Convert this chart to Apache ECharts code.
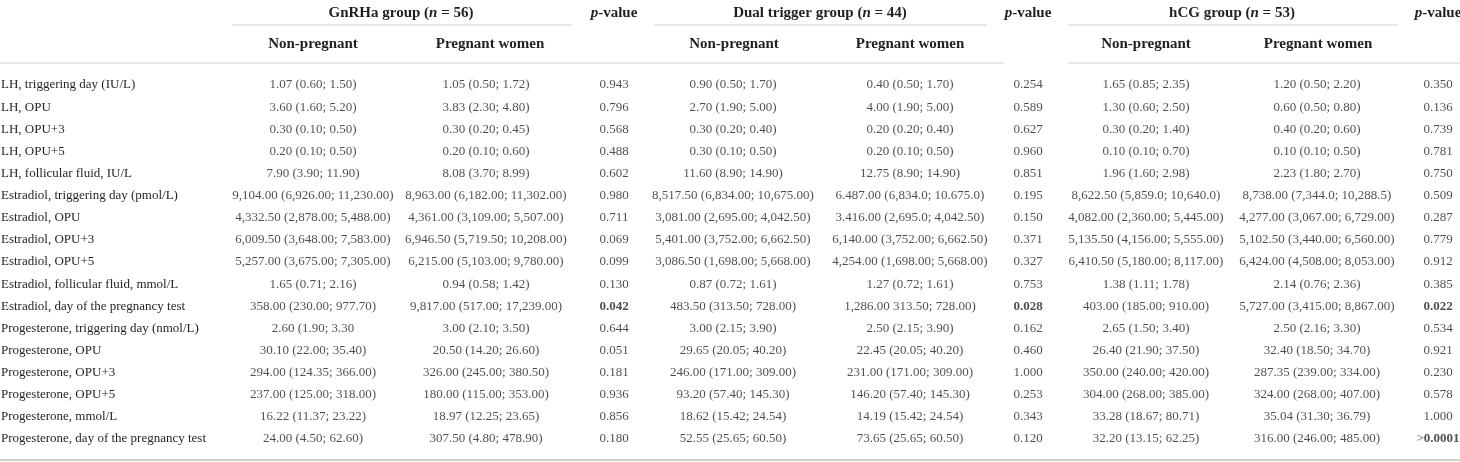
<!DOCTYPE html>
<html lang="en">
  <head>
    <meta charset="UTF-8" />
    <title>Hormone levels by trigger group</title>
    <script src="https://cdn.jsdelivr.net/npm/echarts@6.0.0/dist/echarts.min.js"></script>
    <style>
      html, body { margin: 0; padding: 0; background: #fff; }
      #app { width: 1460px; height: 462px; }
    </style>
  </head>
  <body>
    <div id="app"></div>
    <script>
      const rowLabels = [
        "LH, triggering day (IU/L)",
        "LH, OPU",
        "LH, OPU+3",
        "LH, OPU+5",
        "LH, follicular fluid, IU/L",
        "Estradiol, triggering day (pmol/L)",
        "Estradiol, OPU",
        "Estradiol, OPU+3",
        "Estradiol, OPU+5",
        "Estradiol, follicular fluid, mmol/L",
        "Estradiol, day of the pregnancy test",
        "Progesterone, triggering day (nmol/L)",
        "Progesterone, OPU",
        "Progesterone, OPU+3",
        "Progesterone, OPU+5",
        "Progesterone, mmol/L",
        "Progesterone, day of the pregnancy test",
      ];

      const gnrhaNonPregnant = [
        "1.07 (0.60; 1.50)", "3.60 (1.60; 5.20)", "0.30 (0.10; 0.50)", "0.20 (0.10; 0.50)",
        "7.90 (3.90; 11.90)", "9,104.00 (6,926.00; 11,230.00)", "4,332.50 (2,878.00; 5,488.00)",
        "6,009.50 (3,648.00; 7,583.00)", "5,257.00 (3,675.00; 7,305.00)", "1.65 (0.71; 2.16)",
        "358.00 (230.00; 977.70)", "2.60 (1.90; 3.30", "30.10 (22.00; 35.40)",
        "294.00 (124.35; 366.00)", "237.00 (125.00; 318.00)", "16.22 (11.37; 23.22)",
        "24.00 (4.50; 62.60)",
      ];
      const gnrhaPregnant = [
        "1.05 (0.50; 1.72)", "3.83 (2.30; 4.80)", "0.30 (0.20; 0.45)", "0.20 (0.10; 0.60)",
        "8.08 (3.70; 8.99)", "8,963.00 (6,182.00; 11,302.00)", "4,361.00 (3,109.00; 5,507.00)",
        "6,946.50 (5,719.50; 10,208.00)", "6,215.00 (5,103.00; 9,780.00)", "0.94 (0.58; 1.42)",
        "9,817.00 (517.00; 17,239.00)", "3.00 (2.10; 3.50)", "20.50 (14.20; 26.60)",
        "326.00 (245.00; 380.50)", "180.00 (115.00; 353.00)", "18.97 (12.25; 23.65)",
        "307.50 (4.80; 478.90)",
      ];
      const gnrhaP = [
        "0.943", "0.796", "0.568", "0.488", "0.602", "0.980", "0.711", "0.069", "0.099",
        "0.130", "0.042", "0.644", "0.051", "0.181", "0.936", "0.856", "0.180",
      ];

      const dualNonPregnant = [
        "0.90 (0.50; 1.70)", "2.70 (1.90; 5.00)", "0.30 (0.20; 0.40)", "0.30 (0.10; 0.50)",
        "11.60 (8.90; 14.90)", "8,517.50 (6,834.00; 10,675.00)", "3,081.00 (2,695.00; 4,042.50)",
        "5,401.00 (3,752.00; 6,662.50)", "3,086.50 (1,698.00; 5,668.00)", "0.87 (0.72; 1.61)",
        "483.50 (313.50; 728.00)", "3.00 (2.15; 3.90)", "29.65 (20.05; 40.20)",
        "246.00 (171.00; 309.00)", "93.20 (57.40; 145.30)", "18.62 (15.42; 24.54)",
        "52.55 (25.65; 60.50)",
      ];
      const dualPregnant = [
        "0.40 (0.50; 1.70)", "4.00 (1.90; 5.00)", "0.20 (0.20; 0.40)", "0.20 (0.10; 0.50)",
        "12.75 (8.90; 14.90)", "6.487.00 (6,834.0; 10.675.0)", "3.416.00 (2,695.0; 4,042.50)",
        "6,140.00 (3,752.00; 6,662.50)", "4,254.00 (1,698.00; 5,668.00)", "1.27 (0.72; 1.61)",
        "1,286.00 313.50; 728.00)", "2.50 (2.15; 3.90)", "22.45 (20.05; 40.20)",
        "231.00 (171.00; 309.00)", "146.20 (57.40; 145.30)", "14.19 (15.42; 24.54)",
        "73.65 (25.65; 60.50)",
      ];
      const dualP = [
        "0.254", "0.589", "0.627", "0.960", "0.851", "0.195", "0.150", "0.371", "0.327",
        "0.753", "0.028", "0.162", "0.460", "1.000", "0.253", "0.343", "0.120",
      ];

      const hcgNonPregnant = [
        "1.65 (0.85; 2.35)", "1.30 (0.60; 2.50)", "0.30 (0.20; 1.40)", "0.10 (0.10; 0.70)",
        "1.96 (1.60; 2.98)", "8,622.50 (5,859.0; 10,640.0)", "4,082.00 (2,360.00; 5,445.00)",
        "5,135.50 (4,156.00; 5,555.00)", "6,410.50 (5,180.00; 8,117.00)", "1.38 (1.11; 1.78)",
        "403.00 (185.00; 910.00)", "2.65 (1.50; 3.40)", "26.40 (21.90; 37.50)",
        "350.00 (240.00; 420.00)", "304.00 (268.00; 385.00)", "33.28 (18.67; 80.71)",
        "32.20 (13.15; 62.25)",
      ];
      const hcgPregnant = [
        "1.20 (0.50; 2.20)", "0.60 (0.50; 0.80)", "0.40 (0.20; 0.60)", "0.10 (0.10; 0.50)",
        "2.23 (1.80; 2.70)", "8,738.00 (7,344.0; 10,288.5)", "4,277.00 (3,067.00; 6,729.00)",
        "5,102.50 (3,440.00; 6,560.00)", "6,424.00 (4,508.00; 8,053.00)", "2.14 (0.76; 2.36)",
        "5,727.00 (3,415.00; 8,867.00)", "2.50 (2.16; 3.30)", "32.40 (18.50; 34.70)",
        "287.35 (239.00; 334.00)", "324.00 (268.00; 407.00)", "35.04 (31.30; 36.79)",
        "316.00 (246.00; 485.00)",
      ];
      const hcgP = [
        "0.350", "0.136", "0.739", "0.781", "0.750", "0.509", "0.287", "0.779", "0.912",
        "0.385", "0.022", "0.534", "0.921", "0.230", "0.578", "1.000", ">0.0001",
      ];

      const groupTitles = [
        ["GnRHa group", "56"],
        ["Dual trigger group", "44"],
        ["hCG group", "53"],
      ];
      const subHeaders = ["Non-pregnant", "Pregnant women"];

      // layout
      const W = 1460;
      const columns = [
        gnrhaNonPregnant, gnrhaPregnant, gnrhaP,
        dualNonPregnant, dualPregnant, dualP,
        hcgNonPregnant, hcgPregnant, hcgP,
      ];
      const colX = [313, 486, 614, 733, 910, 1028, 1146, 1317, 1438];
      const subHeadX = [313, 490, 734, 910, 1146, 1318];
      const groupX = [401, 820, 1232];
      const groupLine = [[232, 572], [654, 987], [1068, 1397]];
      const textColor = "#231f20";
      const lineColor = "#cfcfcf";
      const serif = "'Liberation Serif', 'DejaVu Serif', serif";

      function pLabel(s) {
        if (s.charAt(0) === ">") return ">{b|" + s.slice(1) + "}";
        return parseFloat(s) < 0.05 ? "{b|" + s + "}" : s;
      }

      const series = columns.map((col, c) => ({
        type: "scatter",
        symbolSize: 1,
        itemStyle: { color: "rgba(0,0,0,0)" },
        silent: true,
        data: col.map((v, i) => [colX[c], rowLabels[i]]),
        label: {
          show: true,
          position: "inside",
          color: textColor,
          fontFamily: serif,
          fontSize: 13,
          formatter: (p) => {
            const s = col[p.dataIndex];
            return c % 3 === 2 ? pLabel(s) : s;
          },
          rich: {
            b: { fontWeight: "bold", fontFamily: serif, fontSize: 13, color: textColor },
          },
        },
      }));

      const graphic = [];
      groupTitles.forEach((g, k) => {
        graphic.push({
          type: "text",
          x: groupX[k],
          y: 13,
          style: {
            text: g[0] + " ({i|n} = " + g[1] + ")",
            align: "center",
            verticalAlign: "middle",
            font: "bold 15px " + serif,
            fill: textColor,
            rich: { i: { fontStyle: "italic", fontWeight: "bold", fontSize: 15, fontFamily: serif, fill: textColor } },
          },
        });
        graphic.push({
          type: "line",
          shape: { x1: groupLine[k][0], y1: 25, x2: groupLine[k][1], y2: 25 },
          style: { stroke: lineColor, lineWidth: 1 },
        });
        graphic.push({
          type: "text",
          x: colX[k * 3 + 2],
          y: 13,
          style: {
            text: "{i|p}-value",
            align: "center",
            verticalAlign: "middle",
            font: "bold 15px " + serif,
            fill: textColor,
            rich: { i: { fontStyle: "italic", fontWeight: "bold", fontSize: 15, fontFamily: serif, fill: textColor } },
          },
        });
      });
      subHeadX.forEach((x, k) => {
        graphic.push({
          type: "text",
          x: x,
          y: 44,
          style: {
            text: subHeaders[k % 2],
            align: "center",
            verticalAlign: "middle",
            font: "bold 15px " + serif,
            fill: textColor,
          },
        });
      });
      [[0, 1004], [1068, W]].forEach((seg) => {
        graphic.push({
          type: "line",
          shape: { x1: seg[0], y1: 63, x2: seg[1], y2: 63 },
          style: { stroke: lineColor, lineWidth: 1 },
        });
      });
      graphic.push({
        type: "line",
        shape: { x1: 0, y1: 460, x2: W, y2: 460 },
        style: { stroke: lineColor, lineWidth: 2 },
      });

      const option = {
        animation: false,
        backgroundColor: "#fff",
        grid: { left: 0, right: 0, top: 74, bottom: 12, outerBoundsMode: "none", containLabel: false },
        xAxis: { type: "value", min: 0, max: W, show: false },
        yAxis: {
          type: "category",
          inverse: true,
          data: rowLabels,
          axisLine: { show: false },
          axisTick: { show: false },
          splitLine: { show: false },
          axisLabel: {
            inside: true,
            margin: 1,
            color: textColor,
            fontFamily: serif,
            fontSize: 13,
          },
        },
        graphic: graphic,
        series: series,
      };

      const chart = echarts.init(document.getElementById("app"));
      chart.setOption(option);
    </script>
  </body>
</html>
